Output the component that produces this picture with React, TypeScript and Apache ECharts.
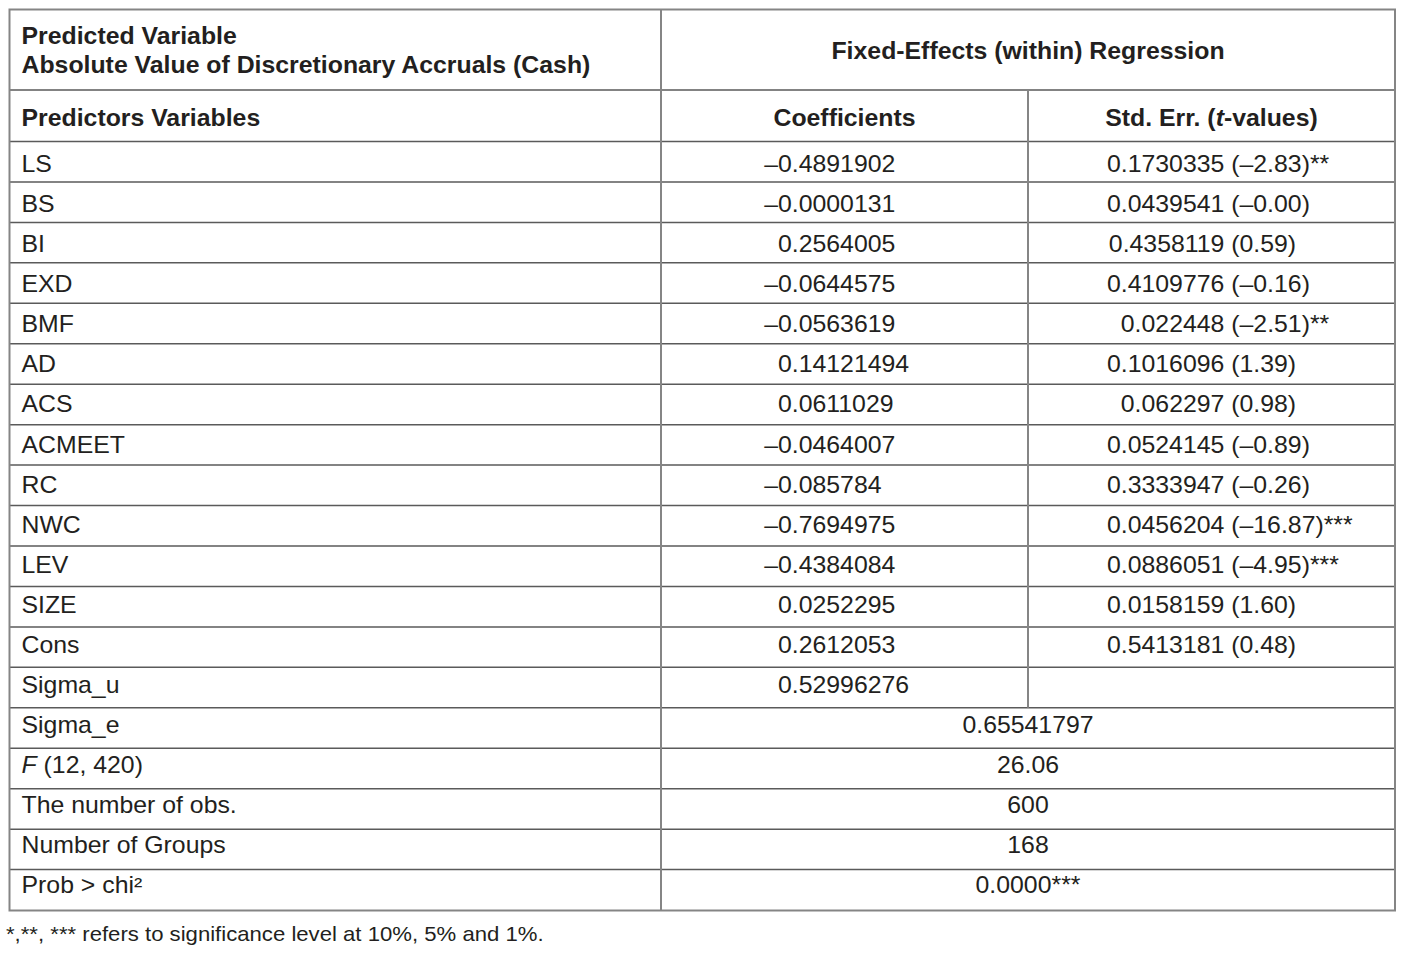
import React, { useEffect, useRef } from "react";
import * as echarts from "echarts";

const predictors = ["LS", "BS", "BI", "EXD", "BMF", "AD", "ACS", "ACMEET", "RC", "NWC", "LEV", "SIZE", "Cons"];
const coefficients = ["–0.4891902", "–0.0000131", "0.2564005", "–0.0644575", "–0.0563619", "0.14121494", "0.0611029", "–0.0464007", "–0.085784", "–0.7694975", "–0.4384084", "0.0252295", "0.2612053"];
const stdErrors = ["0.1730335", "0.0439541", "0.4358119", "0.4109776", "0.022448", "0.1016096", "0.062297", "0.0524145", "0.3333947", "0.0456204", "0.0886051", "0.0158159", "0.5413181"];
const tValues = ["–2.83", "–0.00", "0.59", "–0.16", "–2.51", "1.39", "0.98", "–0.89", "–0.26", "–16.87", "–4.95", "1.60", "0.48"];
const significance = ["**", "", "", "", "**", "", "", "", "", "***", "***", "", ""];
const sigmaULabel = "Sigma_u";
const sigmaUValue = "0.52996276";
const statLabels = ["Sigma_e", "{i|F} (12, 420)", "The number of obs.", "Number of Groups", "Prob > chi²"];
const statValues = ["0.65541797", "26.06", "600", "168", "0.0000***"];
const headerPredicted = ["Predicted Variable", "Absolute Value of Discretionary Accruals (Cash)"];
const headerModel = "Fixed-Effects (within) Regression";
const headerPredictors = "Predictors Variables";
const headerCoef = "Coefficients";
const headerStdErr = "{b|Std. Err. (}{bi|t}{b|-values)}";
const footnote = "*,**, *** refers to significance level at 10%, 5% and 1%.";

const TEXT = "#231f20";
const LINE = "#858585";
const HLINE = "#5a5a5a";
const FONT = '"Liberation Sans", Arial, Helvetica, sans-serif';
const FS = 23;
const SX = 1.08;

export default function App() {
  const ref = useRef<HTMLDivElement>(null);
  useEffect(() => {
    document.body.style.margin = "0";
    const chart = echarts.init(ref.current as HTMLDivElement, null, { renderer: "svg" });
    const canvas = document.createElement("canvas");
    const ctx = canvas.getContext("2d") as CanvasRenderingContext2D;
    const measure = (s: string, size = FS, weight = "normal") => {
      ctx.font = `${weight} ${size}px ${FONT}`;
      return ctx.measureText(s).width * SX;
    };
    const els: any[] = [];
    const richBase = (extra: any = {}) => ({
      fontSize: FS,
      fontFamily: FONT,
      fill: TEXT,
      color: TEXT,
      ...extra,
    });
    const rich = {
      i: richBase({ fontStyle: "italic" }),
      b: richBase({ fontWeight: "bold" }),
      bi: richBase({ fontWeight: "bold", fontStyle: "italic" }),
    };
    const txt = (text: string, x: number, y: number, o: any = {}) => {
      const align = o.align || "left";
      els.push({
        type: "text",
        x,
        y,
        scaleX: SX,
        silent: true,
        style: {
          text,
          fill: TEXT,
          fontSize: o.size || FS,
          fontFamily: FONT,
          fontWeight: o.bold ? "bold" : "normal",
          align,
          textAlign: align,
          verticalAlign: "middle",
          textVerticalAlign: "middle",
          rich,
        },
      });
    };
    const line = (x1: number, y1: number, x2: number, y2: number, color = HLINE, w = 1.5) => {
      els.push({ type: "line", silent: true, shape: { x1, y1, x2, y2 }, style: { stroke: color, lineWidth: w } });
    };

    const L = 9.5, R = 1395, T = 9.5, B = 910.5;
    const C1 = 661, C2 = 1028;
    const rowTop = 141.5, rowH = 40.45;
    const textTop = 164, textH = 40.05;
    const nRows = predictors.length + 1 + statLabels.length;

    // horizontal lines
    line(L, 90, R, 90);
    for (let k = 0; k < nRows; k++) line(L, rowTop + rowH * k, R, rowTop + rowH * k);
    // vertical lines
    line(C1, T, C1, B, LINE, 2);
    line(C2, 90, C2, rowTop + rowH * (predictors.length + 1), LINE, 2);
    els.push({ type: "rect", silent: true, shape: { x: L, y: T, width: R - L, height: B - T }, style: { fill: "none", stroke: LINE, lineWidth: 2 } });

    const xLeft = 21.5;
    // headers
    txt(headerPredicted[0], xLeft, 35.5, { bold: true });
    txt(headerPredicted[1], xLeft, 64.5, { bold: true });
    txt(headerModel, (C1 + R) / 2, 51, { bold: true, align: "center" });
    txt(headerPredictors, xLeft, 117.5, { bold: true });
    txt(headerCoef, (C1 + C2) / 2, 117.5, { bold: true, align: "center" });
    txt(headerStdErr, (C2 + R) / 2, 117.5, { bold: true, align: "center" });

    const coefX = 778;
    const dashW = measure("–");
    const seRight = 1107 + measure("0.1730335");
    predictors.forEach((p, i) => {
      const y = textTop + textH * i;
      txt(p, xLeft, y);
      const c = coefficients[i];
      txt(c, c.startsWith("–") ? coefX - dashW : coefX, y);
      const se = stdErrors[i];
      txt(`${se} (${tValues[i]})${significance[i]}`, seRight - measure(se), y);
    });
    const iu = predictors.length;
    txt(sigmaULabel, xLeft, textTop + textH * iu);
    txt(sigmaUValue, coefX, textTop + textH * iu);
    statLabels.forEach((s, j) => {
      const y = textTop + textH * (iu + 1 + j);
      txt(s, xLeft, y);
      txt(statValues[j], (C1 + R) / 2, y, { align: "center" });
    });
    txt(footnote, 6, 934, { size: 20.5 });

    chart.setOption({
      animation: false,
      backgroundColor: "#ffffff",
      graphic: { elements: els },
    });
    return () => chart.dispose();
  }, []);
  return <div ref={ref} style={{ width: 1415, height: 954 }} />;
}
